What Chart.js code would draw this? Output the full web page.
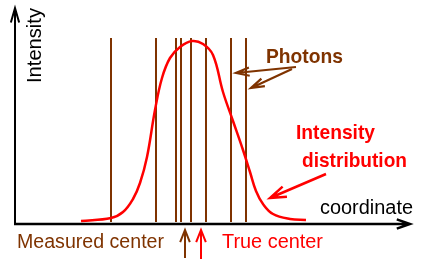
<!DOCTYPE html>
<html>
<head>
<meta charset="utf-8">
<script src="https://cdn.jsdelivr.net/npm/chart.js@4/dist/chart.umd.min.js"></script>
<style>
  html, body { margin: 0; padding: 0; background: #fff; }
  #wrap { width: 426px; height: 264px; }
</style>
</head>
<body>
<div id="wrap"><canvas id="c" width="426" height="264"></canvas></div>
<script>
// ---- data (coordinate, intensity) ----
const curveX = [81, 111, 123, 133, 140, 147, 155, 162, 170, 180, 192, 203, 213, 223, 233, 243, 250, 256, 263, 273, 290, 306];
const curveI = [3, 6, 12, 25, 41, 67, 114, 146, 166, 177, 183, 180, 169, 132, 103, 74, 52, 33, 20, 10, 5, 4];
const photonX = [111, 156, 176, 181, 191, 206, 231, 246];
const photonTop = 186;
const photonBottom = 2;
const measuredCenter = 185;
const trueCenter = 201;

const BROWN = '#7f3300';
const RED = '#ff0000';

const curveData = curveX.map((x, i) => ({ x: x, y: curveI[i] }));
const photonData = [];
photonX.forEach(x => {
  photonData.push({ x: x, y: photonBottom });
  photonData.push({ x: x, y: photonTop });
  photonData.push({ x: x, y: null });
});

function fitText(ctx, text, x, y, width, font, color, rot) {
  ctx.save();
  ctx.font = font;
  ctx.fillStyle = color;
  ctx.textAlign = 'left';
  ctx.textBaseline = 'alphabetic';
  const w = ctx.measureText(text).width;
  ctx.translate(x, y);
  if (rot) ctx.rotate(rot);
  ctx.scale(width / w, 1);
  ctx.fillText(text, 0, 0);
  ctx.restore();
}

function arrow(ctx, x1, y1, x2, y2, color, lw, headLen, headAng) {
  ctx.save();
  ctx.strokeStyle = color;
  ctx.lineWidth = lw;
  ctx.lineCap = 'butt';
  ctx.beginPath();
  ctx.moveTo(x1, y1);
  ctx.lineTo(x2, y2);
  const a = Math.atan2(y1 - y2, x1 - x2);
  ctx.moveTo(x2 + headLen * Math.cos(a + headAng), y2 + headLen * Math.sin(a + headAng));
  ctx.lineTo(x2, y2);
  ctx.lineTo(x2 + headLen * Math.cos(a - headAng), y2 + headLen * Math.sin(a - headAng));
  ctx.stroke();
  ctx.restore();
}

const decor = {
  id: 'decor',
  afterDraw(chart) {
    const ctx = chart.ctx;
    const sx = chart.scales.x, sy = chart.scales.y;
    const y0 = sy.getPixelForValue(0);
    const x0 = sx.getPixelForValue(15);
    // axes
    arrow(ctx, x0, y0, x0, 8, '#000', 2, 15, 0.28);
    arrow(ctx, x0 - 1, y0, 410, y0, '#000', 2.5, 14, 0.34);

    // axis labels
    fitText(ctx, 'Intensity', 41, 83, 75, '20px "Liberation Sans", Arial, sans-serif', '#000', -Math.PI / 2);
    fitText(ctx, 'coordinate', 320, 214, 93, '20px "Liberation Sans", Arial, sans-serif', '#000');

    // Photons label + arrows
    fitText(ctx, 'Photons', 266, 63, 77, 'bold 21px "Liberation Sans", Arial, sans-serif', BROWN);
    arrow(ctx, 296, 67, 236, 73, BROWN, 2.2, 14, 0.3);
    arrow(ctx, 292, 69, 251, 88, BROWN, 2.2, 14, 0.3);

    // Intensity distribution label + arrow
    fitText(ctx, 'Intensity', 296, 139, 79, 'bold 21px "Liberation Sans", Arial, sans-serif', RED);
    fitText(ctx, 'distribution', 302, 167, 105, 'bold 21px "Liberation Sans", Arial, sans-serif', RED);
    arrow(ctx, 326, 174, 270, 198, RED, 2.5, 17, 0.33);

    // centers
    fitText(ctx, 'Measured center', 17, 248, 147, '20px "Liberation Sans", Arial, sans-serif', BROWN);
    fitText(ctx, 'True center', 222, 248, 101, '20px "Liberation Sans", Arial, sans-serif', RED);
    const mx = sx.getPixelForValue(measuredCenter);
    const tx = sx.getPixelForValue(trueCenter);
    arrow(ctx, mx, 258, mx, 230, BROWN, 2, 13, 0.38);
    arrow(ctx, tx, 259, tx, 230, RED, 2, 13, 0.38);
  }
};

new Chart(document.getElementById('c'), {
  type: 'scatter',
  data: {
    datasets: [
      {
        data: curveData,
        showLine: true,
        borderColor: RED,
        borderWidth: 2.5,
        pointRadius: 0,
        tension: 0.4,
        fill: false
      },
      {
        data: photonData,
        showLine: true,
        spanGaps: false,
        borderColor: BROWN,
        borderWidth: 2,
        pointRadius: 0,
        tension: 0
      }
    ]
  },
  options: {
    responsive: false,
    animation: false,
    events: [],
    layout: { padding: 0 },
    plugins: { legend: { display: false }, tooltip: { enabled: false }, title: { display: false } },
    scales: {
      x: { type: 'linear', min: 0, max: 426, display: false },
      y: { type: 'linear', min: -40, max: 224, display: false }
    }
  },
  plugins: [decor]
});
</script>
</body>
</html>
